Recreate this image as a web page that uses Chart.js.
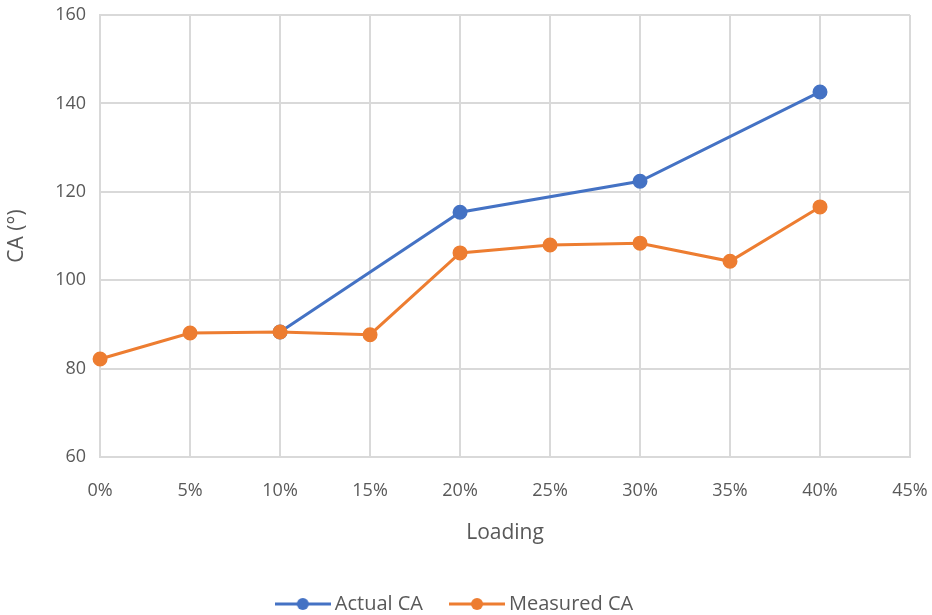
<!DOCTYPE html>
<html>
<head>
<meta charset="utf-8">
<script src="https://cdn.jsdelivr.net/npm/chart.js@4/dist/chart.umd.min.js"></script>
<style>
  html, body { margin: 0; padding: 0; background: #fff; }
  #wrap { width: 932px; height: 615px; }
</style>
</head>
<body>
<div id="wrap"><canvas id="caChart" width="932" height="615"></canvas></div>
<script>
// data
const loadingLabels = ['0%', '5%', '10%', '15%', '20%', '25%', '30%', '35%', '40%', '45%'];
const actualCA = [null, null, 88.3, null, 115.4, null, 122.4, null, 142.6, null];
const measuredCA = [82.2, 88.1, 88.3, 87.7, 106.2, 108.0, 108.4, 104.3, 116.6, null];

const BLUE = '#4472C4';
const ORANGE = '#ED7D31';
const TEXT = '#595959';
const GRID = '#D9D9D9';
const FONT = "'Open Sans', 'Liberation Sans', sans-serif";

// little line-with-dot icon for the legend
function legendIcon(color) {
    const c = document.createElement('canvas');
    c.width = 56;
    c.height = 14;
    const g = c.getContext('2d');
    g.strokeStyle = color;
    g.lineWidth = 3;
    g.beginPath();
    g.moveTo(0, 7);
    g.lineTo(56, 7);
    g.stroke();
    g.fillStyle = color;
    g.beginPath();
    g.arc(28, 7, 6, 0, Math.PI * 2);
    g.fill();
    return c;
}

// let layout.padding decide the plot edges, not the tick labels
const noAutoPadding = (scale) => {
    scale.paddingTop = 0;
    scale.paddingBottom = 0;
    scale.paddingLeft = 0;
    scale.paddingRight = 0;
};

const ctx = document.getElementById('caChart').getContext('2d');
new Chart(ctx, {
    type: 'line',
    data: {
        labels: loadingLabels,
        datasets: [
            {
                label: 'Actual CA',
                data: actualCA,
                borderColor: BLUE,
                backgroundColor: BLUE,
                borderWidth: 3,
                pointRadius: 6,
                pointHoverRadius: 6,
                spanGaps: true,
                order: 1
            },
            {
                label: 'Measured CA',
                data: measuredCA,
                borderColor: ORANGE,
                backgroundColor: ORANGE,
                borderWidth: 3,
                pointRadius: 6,
                pointHoverRadius: 6,
                spanGaps: true,
                order: 0
            }
        ]
    },
    options: {
        responsive: false,
        animation: false,
        layout: { padding: { left: 4, right: 22, top: 15, bottom: -9 } },
        plugins: {
            tooltip: { enabled: false },
            legend: {
                position: 'bottom',
                labels: {
                    color: TEXT,
                    font: { family: FONT, size: 20 },
                    usePointStyle: true,
                    pointStyleWidth: 44,
                    boxHeight: 14,
                    padding: 32,
                    generateLabels: (chart) => chart.data.datasets.map((ds, i) => ({
                        text: ds.label,
                        fontColor: TEXT,
                        pointStyle: legendIcon(ds.borderColor),
                        datasetIndex: i,
                        lineWidth: 0,
                        strokeStyle: 'transparent',
                        fillStyle: ds.borderColor
                    }))
                }
            }
        },
        scales: {
            x: {
                offset: false,
                afterFit: noAutoPadding,
                grid: { color: GRID, lineWidth: 2, drawTicks: false },
                border: { color: GRID, width: 2 },
                ticks: { color: TEXT, font: { family: FONT, size: 18 }, padding: 23, maxRotation: 0 },
                title: { display: true, text: 'Loading', color: TEXT, font: { family: FONT, size: 21 }, padding: { top: -4, bottom: 16 } }
            },
            y: {
                min: 60,
                max: 160,
                afterFit: noAutoPadding,
                grid: { color: GRID, lineWidth: 2, drawTicks: false },
                border: { color: GRID, width: 2 },
                ticks: { stepSize: 20, color: TEXT, font: { family: FONT, size: 18 }, padding: 14 },
                title: { display: true, text: 'CA (°)', color: TEXT, font: { family: FONT, size: 21 }, padding: { top: 0, bottom: 12 } }
            }
        }
    }
});
</script>
</body>
</html>
